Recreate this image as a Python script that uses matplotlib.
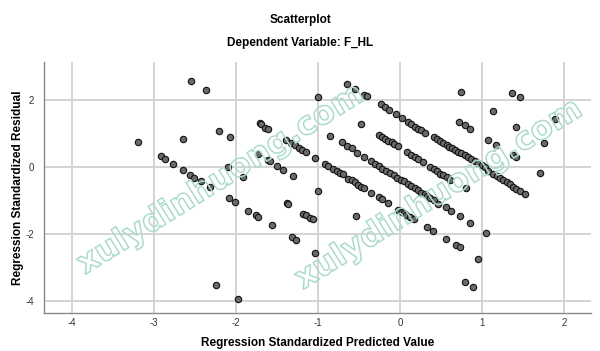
import matplotlib
matplotlib.use("Agg")
import matplotlib.pyplot as plt
from matplotlib.textpath import TextPath
from matplotlib.patches import PathPatch
from matplotlib.font_manager import FontProperties
import matplotlib.transforms as mtransforms
import numpy as np

# ---- data: (regression standardized predicted value, standardized residual)
band_a_x = [-0.65,-0.55,-0.44,-0.40,-0.23,-0.18,-0.13,-0.05,0.02,0.10,0.14,0.18,0.22,0.26,0.30,0.41,0.45,0.49,0.53,0.57,0.60,0.63,0.67,0.71,0.75,0.79,0.83,0.87,0.91,0.95,1.00,1.04,1.08,1.14,1.18,1.22,1.26,1.30,1.34,1.38,1.42,1.46,1.52]
band_a_y = [2.48,2.33,2.15,2.10,1.86,1.77,1.69,1.58,1.44,1.32,1.26,1.20,1.14,1.09,1.02,0.88,0.82,0.76,0.71,0.66,0.60,0.55,0.50,0.45,0.40,0.35,0.30,0.23,0.17,0.11,0.06,0.00,-0.11,-0.22,-0.28,-0.33,-0.40,-0.46,-0.51,-0.59,-0.65,-0.71,-0.80]

band_b_x = [-1.00,-0.47,-0.26,-0.22,-0.18,-0.14,-0.10,-0.07,-0.02,0.09,0.14,0.18,0.22,0.28,0.37,0.41,0.45,0.49,0.53,0.57,0.61,0.80]
band_b_y = [2.08,1.27,0.94,0.88,0.82,0.77,0.73,0.68,0.62,0.45,0.35,0.28,0.22,0.14,0.00,-0.07,-0.13,-0.20,-0.25,-0.30,-0.38,-0.64]

band_c_x = [-0.85,-0.71,-0.65,-0.59,-0.52,-0.44,-0.35,-0.30,-0.26,-0.22,-0.17,-0.12,-0.07,-0.04,0.01,0.05,0.10,0.14,0.18,0.22,0.26,0.30,0.33,0.37,0.41,0.46,0.56,0.62,0.73,0.85,1.05]
band_c_y = [0.92,0.73,0.62,0.55,0.42,0.30,0.17,0.08,0.02,-0.05,-0.12,-0.18,-0.25,-0.32,-0.38,-0.43,-0.51,-0.57,-0.63,-0.69,-0.77,-0.82,-0.87,-0.94,-0.99,-1.10,-1.21,-1.31,-1.47,-1.67,-1.96]

band_d_x = [-2.55,-2.37,-1.71,-1.69,-1.65,-1.61,-1.39,-1.33,-1.28,-1.23,-1.20,-1.15,-1.03,-0.91,-0.88,-0.81,-0.77,-0.73,-0.69,-0.63,-0.59,-0.55,-0.51,-0.47,-0.44,-0.35,-0.25,-0.22,-0.14,-0.02,0.02,0.05,0.08,0.12,0.17,0.33,0.40,0.56,0.68,0.73,0.95]
band_d_y = [2.56,2.28,1.29,1.26,1.16,1.12,0.79,0.71,0.65,0.57,0.50,0.43,0.25,0.08,0.02,-0.07,-0.13,-0.18,-0.22,-0.35,-0.40,-0.46,-0.54,-0.59,-0.64,-0.79,-0.91,-0.96,-1.09,-1.27,-1.33,-1.36,-1.43,-1.49,-1.56,-1.79,-1.91,-2.14,-2.33,-2.40,-2.75]

band_e_x = [-2.20,-2.07,-1.73,-1.61,-1.59,-1.50,-1.43,-1.30,-1.00,-0.53,0.79,0.89]
band_e_y = [1.08,0.88,0.38,0.20,0.18,0.02,-0.08,-0.28,-0.72,-1.45,-3.42,-3.58]

band_f_x = [-2.65,-2.10,-1.91,-1.38,-1.36,-1.18,-1.14,-1.10,-1.06]
band_f_y = [0.83,0.00,-0.30,-1.08,-1.12,-1.39,-1.44,-1.51,-1.56]

band_g_x = [-3.19,-2.91,-2.86,-2.77,-2.65,-2.56,-2.51,-2.42,-2.31,-2.08,-2.01,-1.85,-1.76,-1.73,-1.56,-1.32,-1.27,-1.03]
band_g_y = [0.73,0.31,0.22,0.08,-0.09,-0.23,-0.32,-0.43,-0.60,-0.94,-1.06,-1.31,-1.44,-1.50,-1.74,-2.10,-2.18,-2.55]

band_h_x = [-2.24,-1.98]
band_h_y = [-3.51,-3.92]

upper_x = [0.72,0.79,0.85,1.08,1.17,1.38,1.42,1.71,0.74,1.13,1.42,1.76,1.37,1.47,1.89]
upper_y = [1.34,1.24,1.14,0.79,0.65,0.34,0.28,-0.17,2.23,1.65,1.20,0.70,2.21,2.07,1.43]

x_ticks = [-4, -3, -2, -1, 0, 1, 2]
y_ticks = [-4, -2, 0, 2]

watermark = 'xulydinhuong.com'

pred = np.concatenate([band_a_x, band_b_x, band_c_x, band_d_x, band_e_x,
                       band_f_x, band_g_x, band_h_x, upper_x])
resid = np.concatenate([band_a_y, band_b_y, band_c_y, band_d_y, band_e_y,
                        band_f_y, band_g_y, band_h_y, upper_y])

plt.rcParams['font.family'] = ['Liberation Sans', 'DejaVu Sans']

W, H = 600, 351
fig = plt.figure(figsize=(W/100, H/100), dpi=100)
ax = fig.add_axes([44/W, 1 - 313/H, (591-44)/W, (313-62)/H])

ax.set_xlim(-4.34, 2.33)
ax.set_ylim(-4.35, 3.12)

ax.set_xticks(x_ticks)
ax.set_yticks(y_ticks)
ax.set_xticklabels([str(t) for t in x_ticks])
ax.set_yticklabels([str(t) for t in y_ticks])
ax.tick_params(length=0, labelsize=7, colors='#333333')
ax.tick_params(axis='x', pad=3.5)
ax.tick_params(axis='y', pad=7)

ax.grid(True, color='#d4d4d4', linewidth=1.4)
ax.set_axisbelow(True)
for s in ['top', 'right']:
    ax.spines[s].set_visible(False)
for s in ['left', 'bottom']:
    ax.spines[s].set_color('#8a8a8a')
    ax.spines[s].set_linewidth(1.0)

ax.scatter(pred, resid, s=21, facecolor='#6a6a6a', edgecolor='#111111',
           linewidths=0.8, zorder=3)

ax.set_xlabel('Regression Standardized Predicted Value', fontsize=8.5,
              fontweight='bold', va='center')
ax.set_ylabel('Regression Standardized Residual', fontsize=8.5,
              fontweight='bold', va='center')
ax.xaxis.set_label_coords(0.5, (313 - 343) / (313 - 62))
ax.yaxis.set_label_coords((18 - 44) / (591 - 44), 0.5)

fig.text(0.5, 1 - 20/H, 'Scatterplot', ha='center', va='center',
         fontsize=8.5, fontweight='bold')
fig.text(0.5, 1 - 43/H, 'Dependent Variable: F_HL', ha='center', va='center',
         fontsize=8.5, fontweight='bold')

# watermark (outlined, hollow text) in pixel coordinates
fp = FontProperties(family='DejaVu Sans', weight='bold')
tp = TextPath((0, 0), watermark, size=32, prop=fp)
bb = tp.get_extents()
for cx, cy in [(220, 180), (438, 195)]:
    tr = (mtransforms.Affine2D()
          .translate(-(bb.x0 + bb.x1) / 2, -(bb.y0 + bb.y1) / 2)
          .rotate_deg(32)
          .translate(cx, H - cy))
    patch = PathPatch(tr.transform_path(tp), facecolor='none',
                      edgecolor='#acdcc9', linewidth=1.1,
                      transform=mtransforms.IdentityTransform(), zorder=5)
    fig.add_artist(patch)

fig.savefig('out.png', dpi=100)
